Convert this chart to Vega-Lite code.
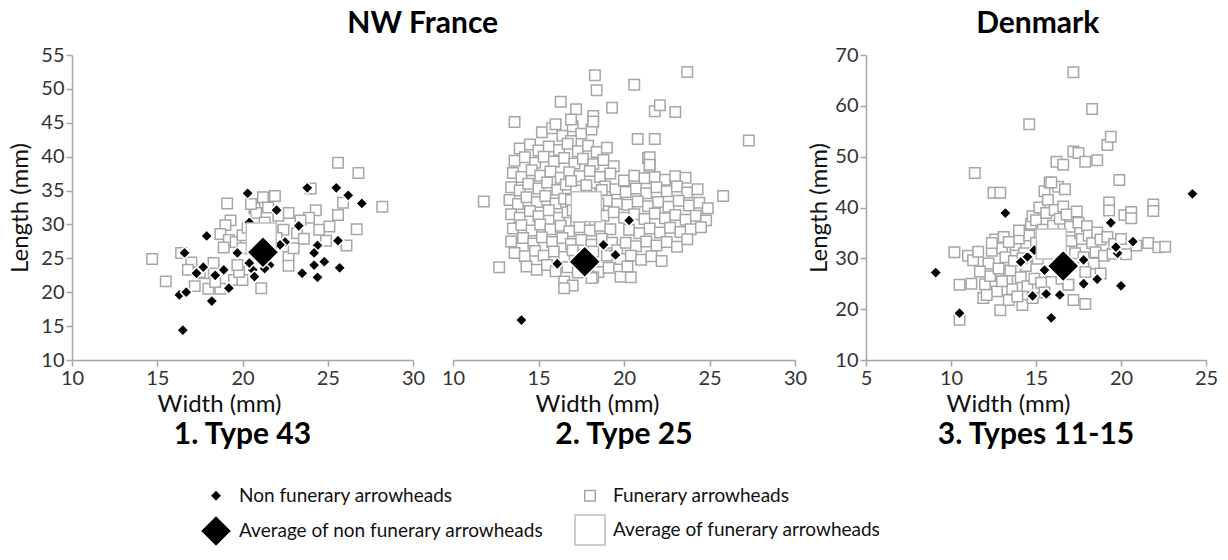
{
"$schema":"https://vega.github.io/schema/vega-lite/v6.json",
"background":"white",
"padding":{"left":8,"top":9,"right":5,"bottom":5},
"config":{"font":"Lato","view":{"stroke":null},
"axis":{"grid":false,"domainColor":"#a6a6a6","tickColor":"#a6a6a6","domainWidth":1.5,"tickWidth":1.5,"tickSize":6,"labelColor":"#333333","labelFontSize":20,"labelPadding":2,"labelFlush":false,"titleFontSize":24,"titleFontWeight":"normal","titleColor":"#111111","labelFont":"Lato","titleFont":"Lato"},
"legend":{"orient":"none","legendX":127,"legendY":431,"columns":2,"direction":"horizontal","title":null,"labelFontSize":19,"labelFont":"Lato","labelColor":"#111111","labelOffset":6,"labelLimit":500,"columnPadding":28,"rowPadding":6,"symbolStrokeWidth":1.5},
"title":{"font":"Lato","fontWeight":"bold","color":"#000000","anchor":"middle"}},
"data":{"values":[
{"p":1,"k":"F","w":14.7,"l":24.9},{"p":1,"k":"F","w":15.5,"l":21.6},{"p":1,"k":"F","w":16.4,"l":25.8},{"p":1,"k":"F","w":17.0,"l":24.4},{"p":1,"k":"F","w":17.7,"l":22.8},{"p":1,"k":"F","w":18.3,"l":24.3},{"p":1,"k":"F","w":18.7,"l":20.5},{"p":1,"k":"F","w":18.0,"l":20.5},{"p":1,"k":"F","w":19.1,"l":33.1},{"p":1,"k":"F","w":19.3,"l":30.6},{"p":1,"k":"F","w":19.0,"l":29.9},{"p":1,"k":"F","w":18.7,"l":28.6},{"p":1,"k":"F","w":19.2,"l":27.7},{"p":1,"k":"F","w":19.6,"l":27.4},{"p":1,"k":"F","w":19.5,"l":21.8},{"p":1,"k":"F","w":20.0,"l":21.8},{"p":1,"k":"F","w":20.0,"l":26.5},{"p":1,"k":"F","w":20.0,"l":28.4},{"p":1,"k":"F","w":20.7,"l":32.4},{"p":1,"k":"F","w":21.2,"l":34.0},{"p":1,"k":"F","w":21.9,"l":34.2},{"p":1,"k":"F","w":21.1,"l":20.6},{"p":1,"k":"F","w":20.8,"l":31.7},{"p":1,"k":"F","w":21.3,"l":30.3},{"p":1,"k":"F","w":22.7,"l":31.7},{"p":1,"k":"F","w":22.4,"l":29.2},{"p":1,"k":"F","w":22.7,"l":25.2},{"p":1,"k":"F","w":22.7,"l":23.9},{"p":1,"k":"F","w":23.2,"l":28.7},{"p":1,"k":"F","w":17.2,"l":20.9},{"p":1,"k":"F","w":18.4,"l":21.5},{"p":1,"k":"F","w":19.8,"l":23.0},{"p":1,"k":"F","w":20.3,"l":29.5},{"p":1,"k":"F","w":21.7,"l":29.0},{"p":1,"k":"F","w":22.0,"l":28.0},{"p":1,"k":"F","w":23.0,"l":26.5},{"p":1,"k":"F","w":23.6,"l":27.9},{"p":1,"k":"F","w":24.3,"l":32.1},{"p":1,"k":"F","w":24.5,"l":29.2},{"p":1,"k":"F","w":25.6,"l":31.4},{"p":1,"k":"F","w":25.6,"l":39.1},{"p":1,"k":"F","w":26.8,"l":37.6},{"p":1,"k":"F","w":28.2,"l":32.6},{"p":1,"k":"F","w":26.7,"l":29.3},{"p":1,"k":"F","w":24.0,"l":35.3},{"p":1,"k":"F","w":25.9,"l":33.2},{"p":1,"k":"F","w":24.9,"l":27.6},{"p":1,"k":"F","w":26.1,"l":26.9},{"p":1,"k":"F","w":23.9,"l":31.0},{"p":1,"k":"F","w":21.5,"l":32.5},{"p":1,"k":"F","w":20.5,"l":33.0},{"p":1,"k":"F","w":17.5,"l":23.0},{"p":1,"k":"F","w":16.8,"l":23.3},{"p":1,"k":"F","w":18.9,"l":26.6},{"p":1,"k":"F","w":19.7,"l":24.0},{"p":1,"k":"F","w":20.9,"l":25.5},{"p":1,"k":"F","w":23.4,"l":30.6},{"p":1,"k":"F","w":22.1,"l":31.3},{"p":1,"k":"F","w":25.1,"l":29.7},
{"p":2,"k":"F","w":15.2,"l":43.6},{"p":2,"k":"F","w":15.8,"l":44.2},{"p":2,"k":"F","w":16.4,"l":43.1},{"p":2,"k":"F","w":17.0,"l":44.5},{"p":2,"k":"F","w":17.5,"l":43.4},{"p":2,"k":"F","w":18.1,"l":44.0},{"p":2,"k":"F","w":16.9,"l":42.3},
{"p":2,"k":"F","w":13.9,"l":41.2},{"p":2,"k":"F","w":14.5,"l":41.8},{"p":2,"k":"F","w":15.0,"l":40.9},{"p":2,"k":"F","w":15.6,"l":41.5},{"p":2,"k":"F","w":16.2,"l":41.0},{"p":2,"k":"F","w":16.7,"l":41.9},{"p":2,"k":"F","w":17.3,"l":40.8},{"p":2,"k":"F","w":17.9,"l":41.6},{"p":2,"k":"F","w":18.4,"l":40.7},{"p":2,"k":"F","w":19.0,"l":41.3},
{"p":2,"k":"F","w":13.6,"l":39.4},{"p":2,"k":"F","w":14.2,"l":39.9},{"p":2,"k":"F","w":14.8,"l":39.1},{"p":2,"k":"F","w":15.3,"l":40.0},{"p":2,"k":"F","w":15.9,"l":39.3},{"p":2,"k":"F","w":16.5,"l":39.8},{"p":2,"k":"F","w":17.1,"l":39.0},{"p":2,"k":"F","w":17.6,"l":39.7},{"p":2,"k":"F","w":18.2,"l":38.9},{"p":2,"k":"F","w":18.8,"l":39.5},{"p":2,"k":"F","w":19.4,"l":38.6},
{"p":2,"k":"F","w":13.5,"l":37.6},{"p":2,"k":"F","w":14.0,"l":37.0},{"p":2,"k":"F","w":14.6,"l":38.0},{"p":2,"k":"F","w":15.1,"l":37.2},{"p":2,"k":"F","w":15.7,"l":37.8},{"p":2,"k":"F","w":16.3,"l":36.9},{"p":2,"k":"F","w":16.8,"l":37.7},{"p":2,"k":"F","w":17.4,"l":37.1},{"p":2,"k":"F","w":18.0,"l":37.9},{"p":2,"k":"F","w":18.6,"l":37.0},{"p":2,"k":"F","w":19.2,"l":37.5},
{"p":2,"k":"F","w":13.4,"l":35.5},{"p":2,"k":"F","w":13.9,"l":35.0},{"p":2,"k":"F","w":14.4,"l":36.0},{"p":2,"k":"F","w":15.0,"l":35.3},{"p":2,"k":"F","w":15.5,"l":36.2},{"p":2,"k":"F","w":16.1,"l":35.1},{"p":2,"k":"F","w":16.6,"l":35.9},{"p":2,"k":"F","w":17.2,"l":35.0},{"p":2,"k":"F","w":18.9,"l":35.6},{"p":2,"k":"F","w":19.5,"l":35.2},
{"p":2,"k":"F","w":13.3,"l":33.6},{"p":2,"k":"F","w":13.8,"l":33.0},{"p":2,"k":"F","w":14.3,"l":34.0},{"p":2,"k":"F","w":14.9,"l":33.3},{"p":2,"k":"F","w":15.4,"l":34.2},{"p":2,"k":"F","w":16.0,"l":33.1},{"p":2,"k":"F","w":16.5,"l":33.8},{"p":2,"k":"F","w":19.0,"l":33.5},{"p":2,"k":"F","w":19.6,"l":33.0},
{"p":2,"k":"F","w":13.4,"l":31.5},{"p":2,"k":"F","w":13.9,"l":31.0},{"p":2,"k":"F","w":14.5,"l":32.0},{"p":2,"k":"F","w":15.0,"l":31.2},{"p":2,"k":"F","w":15.6,"l":32.1},{"p":2,"k":"F","w":16.2,"l":31.0},{"p":2,"k":"F","w":16.7,"l":31.8},{"p":2,"k":"F","w":17.2,"l":30.5},{"p":2,"k":"F","w":18.3,"l":30.6},{"p":2,"k":"F","w":18.8,"l":31.3},{"p":2,"k":"F","w":19.4,"l":31.8},
{"p":2,"k":"F","w":13.5,"l":29.4},{"p":2,"k":"F","w":14.0,"l":29.9},{"p":2,"k":"F","w":14.6,"l":29.1},{"p":2,"k":"F","w":15.1,"l":30.0},{"p":2,"k":"F","w":15.7,"l":29.3},{"p":2,"k":"F","w":16.3,"l":29.8},{"p":2,"k":"F","w":16.8,"l":29.0},{"p":2,"k":"F","w":17.4,"l":29.6},{"p":2,"k":"F","w":18.0,"l":29.1},{"p":2,"k":"F","w":18.6,"l":29.8},{"p":2,"k":"F","w":19.2,"l":29.3},
{"p":2,"k":"F","w":13.4,"l":27.5},{"p":2,"k":"F","w":14.1,"l":28.0},{"p":2,"k":"F","w":14.7,"l":27.2},{"p":2,"k":"F","w":15.2,"l":28.1},{"p":2,"k":"F","w":15.8,"l":27.4},{"p":2,"k":"F","w":16.4,"l":28.0},{"p":2,"k":"F","w":16.9,"l":27.1},{"p":2,"k":"F","w":17.5,"l":27.7},{"p":2,"k":"F","w":18.1,"l":27.0},{"p":2,"k":"F","w":18.7,"l":27.9},{"p":2,"k":"F","w":19.3,"l":27.3},
{"p":2,"k":"F","w":13.6,"l":25.8},{"p":2,"k":"F","w":14.2,"l":25.3},{"p":2,"k":"F","w":14.8,"l":26.1},{"p":2,"k":"F","w":15.3,"l":25.4},{"p":2,"k":"F","w":15.9,"l":26.0},{"p":2,"k":"F","w":16.5,"l":25.2},{"p":2,"k":"F","w":17.0,"l":26.2},{"p":2,"k":"F","w":17.6,"l":25.5},{"p":2,"k":"F","w":18.2,"l":26.0},{"p":2,"k":"F","w":19.0,"l":25.4},{"p":2,"k":"F","w":19.6,"l":26.2},
{"p":2,"k":"F","w":14.3,"l":23.8},{"p":2,"k":"F","w":14.9,"l":23.3},{"p":2,"k":"F","w":15.5,"l":24.0},{"p":2,"k":"F","w":16.0,"l":23.1},{"p":2,"k":"F","w":16.7,"l":23.7},{"p":2,"k":"F","w":17.3,"l":22.9},{"p":2,"k":"F","w":17.9,"l":23.5},{"p":2,"k":"F","w":18.5,"l":23.0},{"p":2,"k":"F","w":19.1,"l":23.6},
{"p":2,"k":"F","w":16.5,"l":21.6},{"p":2,"k":"F","w":18.2,"l":22.2},{"p":2,"k":"F","w":19.8,"l":22.3},{"p":2,"k":"F","w":17.0,"l":21.0},{"p":2,"k":"F","w":18.1,"l":22.1},{"p":2,"k":"F","w":20.4,"l":22.2},
{"p":2,"k":"F","w":17.4,"l":33.2},{"p":2,"k":"F","w":18.0,"l":34.6},{"p":2,"k":"F","w":18.5,"l":33.0},{"p":2,"k":"F","w":17.8,"l":35.8},{"p":2,"k":"F","w":16.9,"l":33.6},{"p":2,"k":"F","w":18.3,"l":32.4},{"p":2,"k":"F","w":17.0,"l":32.1},{"p":2,"k":"F","w":18.7,"l":35.1},{"p":2,"k":"F","w":16.9,"l":36.4},
{"p":2,"k":"F","w":20.0,"l":36.5},{"p":2,"k":"F","w":20.6,"l":37.2},{"p":2,"k":"F","w":21.2,"l":36.8},{"p":2,"k":"F","w":21.8,"l":37.0},{"p":2,"k":"F","w":22.4,"l":36.6},{"p":2,"k":"F","w":23.0,"l":37.1},{"p":2,"k":"F","w":23.6,"l":36.9},{"p":2,"k":"F","w":21.5,"l":38.5},{"p":2,"k":"F","w":21.4,"l":39.8},
{"p":2,"k":"F","w":20.1,"l":34.8},{"p":2,"k":"F","w":20.7,"l":35.3},{"p":2,"k":"F","w":21.3,"l":34.6},{"p":2,"k":"F","w":21.9,"l":35.5},{"p":2,"k":"F","w":22.5,"l":34.9},{"p":2,"k":"F","w":23.1,"l":35.6},{"p":2,"k":"F","w":23.7,"l":34.7},{"p":2,"k":"F","w":24.3,"l":35.2},
{"p":2,"k":"F","w":20.2,"l":32.9},{"p":2,"k":"F","w":20.8,"l":33.4},{"p":2,"k":"F","w":21.4,"l":32.7},{"p":2,"k":"F","w":22.0,"l":33.3},{"p":2,"k":"F","w":22.6,"l":32.6},{"p":2,"k":"F","w":23.2,"l":33.5},{"p":2,"k":"F","w":23.8,"l":32.8},{"p":2,"k":"F","w":24.4,"l":33.2},{"p":2,"k":"F","w":24.9,"l":32.4},
{"p":2,"k":"F","w":20.0,"l":31.0},{"p":2,"k":"F","w":20.6,"l":31.5},{"p":2,"k":"F","w":21.2,"l":30.8},{"p":2,"k":"F","w":21.8,"l":31.6},{"p":2,"k":"F","w":22.4,"l":30.9},{"p":2,"k":"F","w":23.0,"l":31.4},{"p":2,"k":"F","w":23.6,"l":30.7},{"p":2,"k":"F","w":24.2,"l":31.3},{"p":2,"k":"F","w":24.8,"l":30.6},
{"p":2,"k":"F","w":20.3,"l":29.2},{"p":2,"k":"F","w":20.9,"l":28.7},{"p":2,"k":"F","w":21.5,"l":29.4},{"p":2,"k":"F","w":22.1,"l":28.8},{"p":2,"k":"F","w":22.7,"l":29.5},{"p":2,"k":"F","w":23.3,"l":28.9},{"p":2,"k":"F","w":23.9,"l":29.3},{"p":2,"k":"F","w":24.5,"l":29.6},
{"p":2,"k":"F","w":20.1,"l":27.3},{"p":2,"k":"F","w":20.7,"l":26.8},{"p":2,"k":"F","w":21.3,"l":27.5},{"p":2,"k":"F","w":21.9,"l":26.9},{"p":2,"k":"F","w":22.5,"l":27.4},{"p":2,"k":"F","w":23.1,"l":26.7},{"p":2,"k":"F","w":23.7,"l":27.8},
{"p":2,"k":"F","w":19.8,"l":24.9},{"p":2,"k":"F","w":20.4,"l":25.4},{"p":2,"k":"F","w":21.0,"l":24.8},{"p":2,"k":"F","w":21.6,"l":25.3},{"p":2,"k":"F","w":22.2,"l":24.6},{"p":2,"k":"F","w":20.2,"l":23.8},
{"p":2,"k":"F","w":18.3,"l":52.0},{"p":2,"k":"F","w":18.4,"l":49.8},{"p":2,"k":"F","w":20.6,"l":50.6},{"p":2,"k":"F","w":23.7,"l":52.5},{"p":2,"k":"F","w":16.3,"l":48.1},{"p":2,"k":"F","w":17.2,"l":47.0},{"p":2,"k":"F","w":18.2,"l":46.0},{"p":2,"k":"F","w":19.3,"l":47.2},{"p":2,"k":"F","w":21.8,"l":46.7},{"p":2,"k":"F","w":22.1,"l":47.6},{"p":2,"k":"F","w":23.0,"l":46.6},{"p":2,"k":"F","w":13.6,"l":45.1},{"p":2,"k":"F","w":20.8,"l":42.6},{"p":2,"k":"F","w":21.8,"l":42.6},{"p":2,"k":"F","w":27.3,"l":42.4},{"p":2,"k":"F","w":11.8,"l":33.4},{"p":2,"k":"F","w":25.8,"l":34.2},{"p":2,"k":"F","w":12.7,"l":23.7},{"p":2,"k":"F","w":16.5,"l":20.6},{"p":2,"k":"F","w":21.5,"l":39.9},{"p":2,"k":"F","w":21.5,"l":38.8},{"p":2,"k":"F","w":16.9,"l":45.5},{"p":2,"k":"F","w":16.0,"l":44.8},{"p":2,"k":"F","w":18.2,"l":45.2},
{"p":3,"k":"F","w":10.2,"l":31.2},{"p":3,"k":"F","w":10.5,"l":24.8},{"p":3,"k":"F","w":10.5,"l":17.9},{"p":3,"k":"F","w":11.0,"l":30.5},{"p":3,"k":"F","w":11.3,"l":29.6},{"p":3,"k":"F","w":11.6,"l":31.3},{"p":3,"k":"F","w":11.2,"l":25.0},{"p":3,"k":"F","w":11.9,"l":22.2},{"p":3,"k":"F","w":12.0,"l":24.9},{"p":3,"k":"F","w":12.2,"l":29.0},{"p":3,"k":"F","w":12.4,"l":31.5},{"p":3,"k":"F","w":12.6,"l":33.7},{"p":3,"k":"F","w":12.3,"l":26.5},{"p":3,"k":"F","w":12.7,"l":23.5},{"p":3,"k":"F","w":12.9,"l":19.8},{"p":3,"k":"F","w":12.8,"l":28.0},{"p":3,"k":"F","w":13.0,"l":32.0},{"p":3,"k":"F","w":13.1,"l":34.2},{"p":3,"k":"F","w":13.2,"l":30.2},{"p":3,"k":"F","w":13.4,"l":21.8},{"p":3,"k":"F","w":13.3,"l":25.6},{"p":3,"k":"F","w":13.5,"l":27.6},{"p":3,"k":"F","w":13.7,"l":29.5},{"p":3,"k":"F","w":13.8,"l":32.6},{"p":3,"k":"F","w":13.6,"l":23.9},{"p":3,"k":"F","w":14.0,"l":33.9},{"p":3,"k":"F","w":14.1,"l":26.3},{"p":3,"k":"F","w":14.2,"l":20.8},{"p":3,"k":"F","w":14.3,"l":31.0},{"p":3,"k":"F","w":14.4,"l":28.5},{"p":3,"k":"F","w":14.6,"l":34.5},{"p":3,"k":"F","w":14.5,"l":24.5},{"p":3,"k":"F","w":14.7,"l":36.8},{"p":3,"k":"F","w":14.8,"l":38.3},{"p":3,"k":"F","w":14.9,"l":26.0},{"p":3,"k":"F","w":15.0,"l":33.0},{"p":3,"k":"F","w":15.1,"l":29.9},{"p":3,"k":"F","w":15.2,"l":40.0},{"p":3,"k":"F","w":15.0,"l":37.5},{"p":3,"k":"F","w":15.3,"l":25.2},{"p":3,"k":"F","w":15.4,"l":35.6},{"p":3,"k":"F","w":15.5,"l":43.2},{"p":3,"k":"F","w":15.6,"l":38.9},{"p":3,"k":"F","w":15.7,"l":41.5},{"p":3,"k":"F","w":15.8,"l":44.9},{"p":3,"k":"F","w":16.0,"l":36.4},{"p":3,"k":"F","w":16.1,"l":39.5},{"p":3,"k":"F","w":16.2,"l":34.3},{"p":3,"k":"F","w":16.3,"l":44.1},{"p":3,"k":"F","w":16.4,"l":37.8},{"p":3,"k":"F","w":16.6,"l":40.2},{"p":3,"k":"F","w":16.7,"l":43.6},{"p":3,"k":"F","w":16.5,"l":26.0},{"p":3,"k":"F","w":16.8,"l":38.6},{"p":3,"k":"F","w":16.9,"l":24.8},{"p":3,"k":"F","w":17.0,"l":36.2},{"p":3,"k":"F","w":17.1,"l":33.4},{"p":3,"k":"F","w":17.2,"l":21.8},{"p":3,"k":"F","w":17.3,"l":31.0},{"p":3,"k":"F","w":17.4,"l":39.2},{"p":3,"k":"F","w":17.5,"l":37.0},{"p":3,"k":"F","w":17.6,"l":35.0},{"p":3,"k":"F","w":17.7,"l":33.8},{"p":3,"k":"F","w":17.9,"l":21.0},{"p":3,"k":"F","w":17.8,"l":30.2},{"p":3,"k":"F","w":18.0,"l":36.3},{"p":3,"k":"F","w":18.1,"l":34.5},{"p":3,"k":"F","w":18.3,"l":33.0},{"p":3,"k":"F","w":18.4,"l":29.0},{"p":3,"k":"F","w":18.5,"l":31.2},{"p":3,"k":"F","w":18.6,"l":35.1},{"p":3,"k":"F","w":18.8,"l":33.7},{"p":3,"k":"F","w":19.0,"l":30.5},{"p":3,"k":"F","w":19.2,"l":34.2},{"p":3,"k":"F","w":19.3,"l":41.0},{"p":3,"k":"F","w":19.3,"l":39.4},{"p":3,"k":"F","w":19.5,"l":30.9},{"p":3,"k":"F","w":19.6,"l":32.8},{"p":3,"k":"F","w":19.9,"l":45.4},{"p":3,"k":"F","w":20.0,"l":33.8},{"p":3,"k":"F","w":20.2,"l":38.5},{"p":3,"k":"F","w":20.3,"l":30.8},{"p":3,"k":"F","w":20.6,"l":39.1},{"p":3,"k":"F","w":20.6,"l":37.9},{"p":3,"k":"F","w":20.9,"l":32.5},{"p":3,"k":"F","w":21.6,"l":33.0},{"p":3,"k":"F","w":21.9,"l":40.6},{"p":3,"k":"F","w":21.9,"l":39.3},{"p":3,"k":"F","w":22.2,"l":32.2},{"p":3,"k":"F","w":22.6,"l":32.3},{"p":3,"k":"F","w":11.4,"l":46.8},{"p":3,"k":"F","w":12.5,"l":42.9},{"p":3,"k":"F","w":12.9,"l":42.9},{"p":3,"k":"F","w":14.6,"l":56.4},{"p":3,"k":"F","w":15.9,"l":44.9},{"p":3,"k":"F","w":16.2,"l":49.0},{"p":3,"k":"F","w":16.6,"l":48.4},{"p":3,"k":"F","w":17.2,"l":51.0},{"p":3,"k":"F","w":17.5,"l":50.7},{"p":3,"k":"F","w":17.9,"l":49.0},{"p":3,"k":"F","w":18.6,"l":49.3},{"p":3,"k":"F","w":19.2,"l":52.3},{"p":3,"k":"F","w":19.4,"l":53.9},{"p":3,"k":"F","w":18.3,"l":59.4},{"p":3,"k":"F","w":17.2,"l":66.6},{"p":3,"k":"F","w":11.7,"l":27.4},{"p":3,"k":"F","w":12.1,"l":22.8},{"p":3,"k":"F","w":13.9,"l":22.5},{"p":3,"k":"F","w":14.8,"l":22.2},{"p":3,"k":"F","w":15.5,"l":23.3},{"p":3,"k":"F","w":13.0,"l":25.5},{"p":3,"k":"F","w":14.2,"l":30.0},{"p":3,"k":"F","w":15.7,"l":31.6},{"p":3,"k":"F","w":16.4,"l":30.8},{"p":3,"k":"F","w":16.9,"l":28.5},{"p":3,"k":"F","w":15.9,"l":27.4},{"p":3,"k":"F","w":13.4,"l":33.2},{"p":3,"k":"F","w":12.4,"l":33.0},{"p":3,"k":"F","w":14.0,"l":35.5},{"p":3,"k":"F","w":17.9,"l":27.3},{"p":3,"k":"F","w":18.8,"l":27.0},{"p":3,"k":"F","w":16.9,"l":24.8},
{"p":1,"k":"N","w":16.5,"l":14.4},{"p":1,"k":"N","w":16.3,"l":19.6},{"p":1,"k":"N","w":16.7,"l":20.0},{"p":1,"k":"N","w":16.6,"l":25.8},{"p":1,"k":"N","w":17.9,"l":28.3},{"p":1,"k":"N","w":17.3,"l":22.8},{"p":1,"k":"N","w":17.7,"l":23.7},{"p":1,"k":"N","w":18.4,"l":22.5},{"p":1,"k":"N","w":18.9,"l":23.3},{"p":1,"k":"N","w":18.2,"l":18.7},{"p":1,"k":"N","w":19.2,"l":20.6},{"p":1,"k":"N","w":19.7,"l":25.8},{"p":1,"k":"N","w":20.3,"l":34.6},{"p":1,"k":"N","w":20.4,"l":30.3},{"p":1,"k":"N","w":20.6,"l":23.3},{"p":1,"k":"N","w":20.4,"l":24.3},{"p":1,"k":"N","w":20.7,"l":22.3},{"p":1,"k":"N","w":22.0,"l":32.1},{"p":1,"k":"N","w":22.5,"l":27.4},{"p":1,"k":"N","w":22.2,"l":27.0},{"p":1,"k":"N","w":21.6,"l":24.0},{"p":1,"k":"N","w":23.3,"l":29.8},{"p":1,"k":"N","w":23.8,"l":35.4},{"p":1,"k":"N","w":23.5,"l":22.8},{"p":1,"k":"N","w":24.2,"l":24.0},{"p":1,"k":"N","w":24.4,"l":26.9},{"p":1,"k":"N","w":24.4,"l":22.2},{"p":1,"k":"N","w":24.8,"l":24.5},{"p":1,"k":"N","w":24.2,"l":25.8},{"p":1,"k":"N","w":25.5,"l":35.4},{"p":1,"k":"N","w":25.7,"l":23.6},{"p":1,"k":"N","w":25.6,"l":27.6},{"p":1,"k":"N","w":26.2,"l":34.3},{"p":1,"k":"N","w":27.0,"l":33.1},{"p":1,"k":"N","w":21.3,"l":23.5},
{"p":2,"k":"N","w":14.0,"l":15.9},{"p":2,"k":"N","w":16.1,"l":24.2},{"p":2,"k":"N","w":18.8,"l":27.0},{"p":2,"k":"N","w":19.5,"l":25.5},{"p":2,"k":"N","w":20.3,"l":30.6},
{"p":3,"k":"N","w":9.1,"l":27.2},{"p":3,"k":"N","w":10.5,"l":19.2},{"p":3,"k":"N","w":13.2,"l":38.9},{"p":3,"k":"N","w":14.1,"l":29.3},{"p":3,"k":"N","w":14.5,"l":30.3},{"p":3,"k":"N","w":14.9,"l":31.6},{"p":3,"k":"N","w":15.5,"l":27.7},{"p":3,"k":"N","w":14.8,"l":22.6},{"p":3,"k":"N","w":15.6,"l":23.0},{"p":3,"k":"N","w":16.4,"l":22.8},{"p":3,"k":"N","w":15.9,"l":18.3},{"p":3,"k":"N","w":17.8,"l":29.7},{"p":3,"k":"N","w":17.8,"l":25.0},{"p":3,"k":"N","w":18.6,"l":25.9},{"p":3,"k":"N","w":19.4,"l":37.0},{"p":3,"k":"N","w":19.8,"l":31.0},{"p":3,"k":"N","w":19.7,"l":32.2},{"p":3,"k":"N","w":20.0,"l":24.6},{"p":3,"k":"N","w":20.7,"l":33.3},{"p":3,"k":"N","w":24.2,"l":42.7},
{"p":1,"k":"AF","w":21.1,"l":28.0},{"p":2,"k":"AF","w":17.8,"l":32.6},{"p":3,"k":"AF","w":15.9,"l":32.8},
{"p":1,"k":"AN","w":21.2,"l":25.9},{"p":2,"k":"AN","w":17.7,"l":24.5},{"p":3,"k":"AN","w":16.6,"l":28.5}
]},
"spacing":0,
"hconcat":[
{"title":{"text":"NW France","fontSize":30,"offset":6,"dx":15},"bounds":"flush","spacing":40,
"hconcat":[
{"width":341,"height":305,"transform":[{"filter":"datum.p==1"}],
"title":{"text":"1. Type 43","orient":"bottom","fontSize":30,"offset":4},
"mark":{"type":"point","filled":true,"opacity":1,"strokeWidth":1.5},
"encoding":{
"x":{"field":"w","type":"quantitative","scale":{"domain":[10,30],"nice":false,"zero":false},"axis":{"values":[10,15,20,25,30],"title":"Width (mm)","titleX":147,"titlePadding":4}},
"y":{"field":"l","type":"quantitative","scale":{"domain":[10,55],"nice":false,"zero":false},"axis":{"values":[10,15,20,25,30,35,40,45,50,55],"title":"Length (mm)","titlePadding":8}},
"shape":{"field":"k","type":"ordinal","scale":{"type":"ordinal","domain":["N","F","AN","AF"],"range":["diamond","square","diamond","square"]},"legend":{"labelExpr":"{'N':'Non funerary arrowheads','F':'Funerary arrowheads','AN':'Average of non funerary arrowheads','AF':'Average of funerary arrowheads'}[datum.label]"}},
"size":{"field":"k","type":"ordinal","scale":{"type":"ordinal","domain":["N","F","AN","AF"],"range":[140,110,1000,900]},"legend":{"labelExpr":"{'N':'Non funerary arrowheads','F':'Funerary arrowheads','AN':'Average of non funerary arrowheads','AF':'Average of funerary arrowheads'}[datum.label]"}},
"fill":{"field":"k","type":"ordinal","scale":{"type":"ordinal","domain":["N","F","AN","AF"],"range":["#000000","#ffffff","#000000","#ffffff"]},"legend":{"labelExpr":"{'N':'Non funerary arrowheads','F':'Funerary arrowheads','AN':'Average of non funerary arrowheads','AF':'Average of funerary arrowheads'}[datum.label]"}},
"stroke":{"field":"k","type":"ordinal","scale":{"type":"ordinal","domain":["N","F","AN","AF"],"range":["#ffffff","#a6a6a6","#ffffff","#bdbdbd"]},"legend":{"labelExpr":"{'N':'Non funerary arrowheads','F':'Funerary arrowheads','AN':'Average of non funerary arrowheads','AF':'Average of funerary arrowheads'}[datum.label]"}}
}},
{"width":342,"height":305,"transform":[{"filter":"datum.p==2"}],
"title":{"text":"2. Type 25","orient":"bottom","fontSize":30,"offset":4},
"mark":{"type":"point","filled":true,"opacity":1,"strokeWidth":1.5},
"encoding":{
"x":{"field":"w","type":"quantitative","scale":{"domain":[10,30],"nice":false,"zero":false},"axis":{"values":[10,15,20,25,30],"title":"Width (mm)","titleX":144,"titlePadding":4}},
"y":{"field":"l","type":"quantitative","scale":{"domain":[10,55],"nice":false,"zero":false},"axis":null},
"shape":{"field":"k","type":"ordinal","scale":{"type":"ordinal","domain":["N","F","AN","AF"],"range":["diamond","square","diamond","square"]},"legend":{"labelExpr":"{'N':'Non funerary arrowheads','F':'Funerary arrowheads','AN':'Average of non funerary arrowheads','AF':'Average of funerary arrowheads'}[datum.label]"}},
"size":{"field":"k","type":"ordinal","scale":{"type":"ordinal","domain":["N","F","AN","AF"],"range":[140,110,1000,900]},"legend":{"labelExpr":"{'N':'Non funerary arrowheads','F':'Funerary arrowheads','AN':'Average of non funerary arrowheads','AF':'Average of funerary arrowheads'}[datum.label]"}},
"fill":{"field":"k","type":"ordinal","scale":{"type":"ordinal","domain":["N","F","AN","AF"],"range":["#000000","#ffffff","#000000","#ffffff"]},"legend":{"labelExpr":"{'N':'Non funerary arrowheads','F':'Funerary arrowheads','AN':'Average of non funerary arrowheads','AF':'Average of funerary arrowheads'}[datum.label]"}},
"stroke":{"field":"k","type":"ordinal","scale":{"type":"ordinal","domain":["N","F","AN","AF"],"range":["#ffffff","#a6a6a6","#ffffff","#bdbdbd"]},"legend":{"labelExpr":"{'N':'Non funerary arrowheads','F':'Funerary arrowheads','AN':'Average of non funerary arrowheads','AF':'Average of funerary arrowheads'}[datum.label]"}}
}}
]},
{"title":{"text":"Denmark","fontSize":30,"offset":6,"dx":25},
"hconcat":[
{"width":340,"height":305,"transform":[{"filter":"datum.p==3"}],
"title":{"text":"3. Types 11-15","orient":"bottom","fontSize":30,"offset":4},
"mark":{"type":"point","filled":true,"opacity":1,"strokeWidth":1.5},
"encoding":{
"x":{"field":"w","type":"quantitative","scale":{"domain":[5,25],"nice":false,"zero":false},"axis":{"values":[5,10,15,20,25],"title":"Width (mm)","titleX":142,"titlePadding":4}},
"y":{"field":"l","type":"quantitative","scale":{"domain":[10,70],"nice":false,"zero":false},"axis":{"values":[10,20,30,40,50,60,70],"title":"Length (mm)","titlePadding":3}},
"shape":{"field":"k","type":"ordinal","scale":{"type":"ordinal","domain":["N","F","AN","AF"],"range":["diamond","square","diamond","square"]},"legend":{"labelExpr":"{'N':'Non funerary arrowheads','F':'Funerary arrowheads','AN':'Average of non funerary arrowheads','AF':'Average of funerary arrowheads'}[datum.label]"}},
"size":{"field":"k","type":"ordinal","scale":{"type":"ordinal","domain":["N","F","AN","AF"],"range":[140,110,1000,900]},"legend":{"labelExpr":"{'N':'Non funerary arrowheads','F':'Funerary arrowheads','AN':'Average of non funerary arrowheads','AF':'Average of funerary arrowheads'}[datum.label]"}},
"fill":{"field":"k","type":"ordinal","scale":{"type":"ordinal","domain":["N","F","AN","AF"],"range":["#000000","#ffffff","#000000","#ffffff"]},"legend":{"labelExpr":"{'N':'Non funerary arrowheads','F':'Funerary arrowheads','AN':'Average of non funerary arrowheads','AF':'Average of funerary arrowheads'}[datum.label]"}},
"stroke":{"field":"k","type":"ordinal","scale":{"type":"ordinal","domain":["N","F","AN","AF"],"range":["#ffffff","#a6a6a6","#ffffff","#bdbdbd"]},"legend":{"labelExpr":"{'N':'Non funerary arrowheads','F':'Funerary arrowheads','AN':'Average of non funerary arrowheads','AF':'Average of funerary arrowheads'}[datum.label]"}}
}}
]}
]
}
